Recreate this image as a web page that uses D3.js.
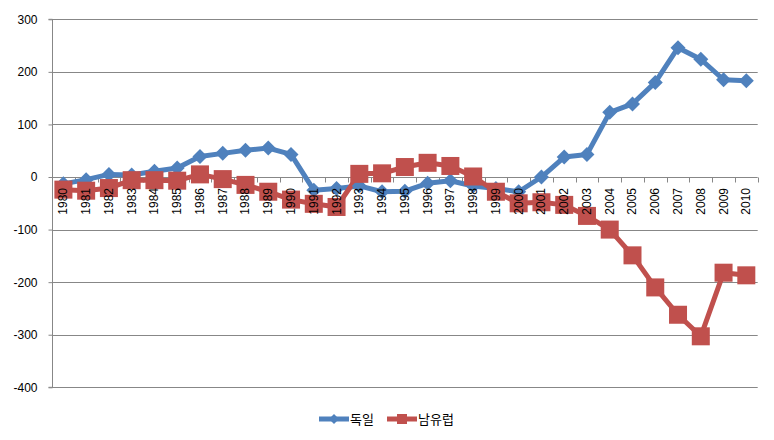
<!DOCTYPE html>
<html><head><meta charset="utf-8">
<script src="https://cdn.jsdelivr.net/npm/d3@7"></script>
<style>
html,body{margin:0;padding:0;background:#fff;}
svg{display:block;}
text{font-family:"Liberation Sans",Arial,"Noto Sans CJK KR",sans-serif;}
</style></head>
<body>
<svg id="chart" width="774" height="440"></svg>
<script>
const years = ["1980","1981","1982","1983","1984","1985","1986","1987","1988","1989","1990","1991","1992","1993","1994","1995","1996","1997","1998","1999","2000","2001","2002","2003","2004","2005","2006","2007","2008","2009","2010"];
const germany = [-13,-5,5,4,11,17,39,45,51,55,43,-25,-22,-17,-28,-27,-12,-7,-17,-22,-28,0,38,43,123,139,180,246,224,185,183];
const southEurope = [-24,-26,-21,-6,-6,-7,5,-4,-15,-28,-43,-51,-57,6,7,19,27,21,1,-28,-50,-48,-53,-74,-100,-149,-210,-262,-303,-182,-187];
const yTicks = [300,200,100,0,-100,-200,-300,-400];
const seriesNames = ["독일","남유럽"];
const colors = ["#4F81BD","#C0504D"];

(function(){
const svg = d3.select("#chart");
const pl = 52, pr = 757.7, pt = 19.3, pb = 387.3;
const x = d3.scaleBand().domain(years).range([pl, pr]).padding(0);
const y = d3.scaleLinear().domain([-400, 300]).range([pb, pt]);
const gridColor = "#878787";

svg.append("g").selectAll("line").data(yTicks).join("line")
  .attr("x1", pl).attr("x2", pr)
  .attr("y1", d => Math.round(y(d)) + 0.5).attr("y2", d => Math.round(y(d)) + 0.5)
  .attr("stroke", gridColor).attr("stroke-width", 1);

const yAxis = d3.axisLeft(y).tickValues(yTicks).tickSize(4).tickPadding(11).tickFormat(d => String(d));
const gy = svg.append("g").attr("transform", `translate(${Math.round(pl) + 0.5},0)`).call(yAxis);
gy.select(".domain").attr("stroke", gridColor).attr("d", `M-4,${y(300)}H0V${y(-400)}H-4`);
gy.selectAll(".tick line").attr("stroke", gridColor);
gy.selectAll(".tick text").attr("fill", "#000").style("font-size", "12px");

const y0 = Math.round(y(0)) + 0.5;
const bounds = years.map(d => x(d)).concat([pr]);
svg.append("g").selectAll("line").data(bounds).join("line")
  .attr("x1", d => Math.round(d) + 0.5).attr("x2", d => Math.round(d) + 0.5)
  .attr("y1", y0).attr("y2", y0 + 5)
  .attr("stroke", gridColor);

const allSeries = [germany, southEurope];
const line = d3.line().x((d, i) => x(years[i]) + x.bandwidth() / 2).y(d => y(d));
allSeries.forEach((s, k) => {
  svg.append("path").datum(s).attr("d", line)
    .attr("fill", "none").attr("stroke", colors[k]).attr("stroke-width", 5)
    .attr("stroke-linejoin", "round");
});
const diamond = (cx, cy, r) => `M${cx},${cy - r}L${cx + r},${cy}L${cx},${cy + r}L${cx - r},${cy}Z`;
svg.append("g").selectAll("path").data(germany).join("path")
  .attr("d", (d, i) => diamond(x(years[i]) + x.bandwidth() / 2, y(d), 7.5))
  .attr("fill", colors[0]);
svg.append("g").selectAll("rect").data(southEurope).join("rect")
  .attr("x", (d, i) => x(years[i]) + x.bandwidth() / 2 - 9)
  .attr("y", d => y(d) - 9)
  .attr("width", 18).attr("height", 18)
  .attr("fill", colors[1]);

svg.append("g").selectAll("text").data(years).join("text")
  .attr("transform", d => `translate(${x(d) + x.bandwidth() / 2 + 4},${y(0) + 11}) rotate(-90)`)
  .attr("text-anchor", "end")
  .attr("fill", "#000").style("font-size", "12px")
  .text(d => d);

const lg = svg.append("g");
const legendItems = [{x: 319, name: seriesNames[0], c: colors[0], m: "d"}, {x: 387, name: seriesNames[1], c: colors[1], m: "s"}];
legendItems.forEach(it => {
  const ly = 419;
  lg.append("line").attr("x1", it.x).attr("x2", it.x + 30).attr("y1", ly).attr("y2", ly)
    .attr("stroke", it.c).attr("stroke-width", 5);
  if (it.m === "d") {
    lg.append("path").attr("d", diamond(it.x + 15, ly, 5)).attr("fill", it.c);
  } else {
    lg.append("rect").attr("x", it.x + 10).attr("y", ly - 5).attr("width", 10).attr("height", 10).attr("fill", it.c);
  }
  lg.append("text").attr("x", it.x + 31).attr("y", ly + 5)
    .style("font-family", '"Noto Sans CJK KR",sans-serif').style("font-size", "13px").attr("fill", "#000")
    .text(it.name);
});
})();
</script>
</body></html>
